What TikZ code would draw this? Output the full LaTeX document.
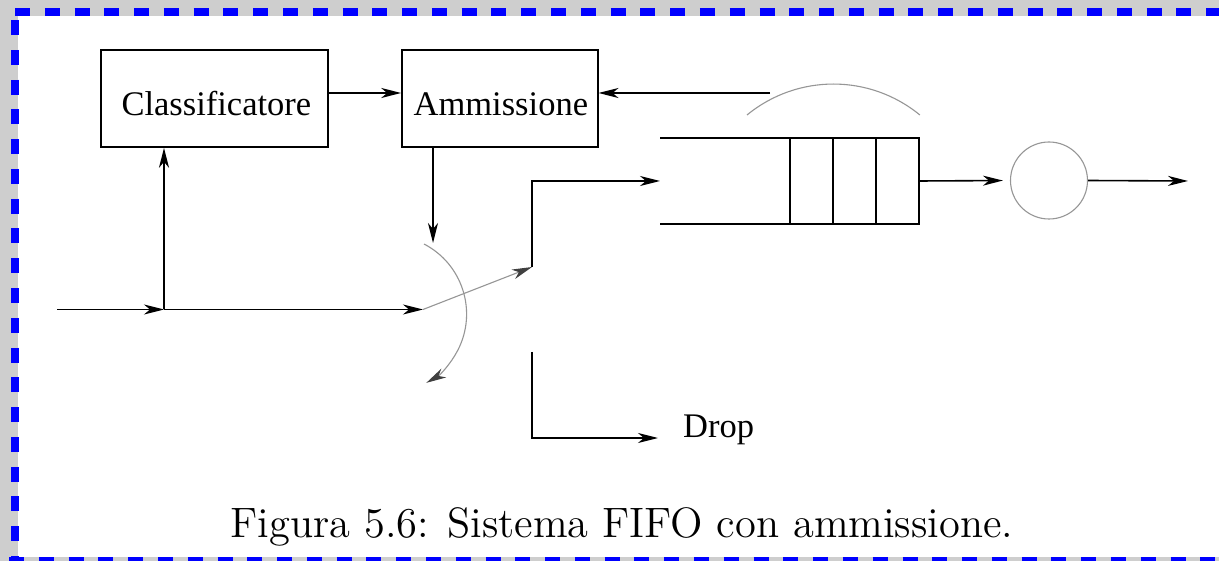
\documentclass[tikz,border=0pt]{standalone}
\usepackage{fontspec}
\setmainfont{Latin Modern Roman}
\newfontfamily\boxfont{Liberation Serif}
\newfontfamily\capfont{lmroman12-regular}[Extension=.otf]
\usetikzlibrary{arrows.meta}
\definecolor{bgray}{RGB}{206,206,206}
\definecolor{lgray}{RGB}{150,150,150}
\definecolor{fblue}{RGB}{0,0,255}
\tikzset{
  blk/.style={line width=1.6pt, black},
  gry/.style={line width=1.1pt, lgray},
  arr/.style={-{Stealth[length=20pt,width=10pt,inset=6pt]}},
  garr/.style={-{Stealth[length=20pt,width=10pt,inset=6pt,color=black!75]}},
  boxnode/.style={draw, line width=1.6pt, inner sep=0pt, text height=66pt, text depth=31pt,
    font=\boxfont\fontsize{34.5}{36}\selectfont, align=center},
  frameline/.style={fblue, line width=7.7pt, dash pattern=on 15pt off 14.78pt},
}
\begin{document}
\begin{tikzpicture}[x=1pt,y=-1pt]
\useasboundingbox (0,0) rectangle (1219,561);
\clip (0,0) rectangle (1219,561);
% background and frame
\fill[bgray] (0,0) rectangle (1219,561);
\fill[white] (18.3,16) rectangle (1230,556.5);
\draw[frameline] (15,12.2) -- (1230,12.2);
\draw[frameline] (14.65,20) -- (14.65,570);
\draw[frameline] (9.1,560.5) -- (1230,560.5);

% boxes
\node[boxnode, minimum width=226.7pt] (cls) at (214.35,98.5) {\hspace*{4pt}Classificatore};
\node[boxnode, minimum width=195.7pt] (amm) at (499.85,98.5) {\hspace*{2pt}Ammissione};

% coordinates
\coordinate (in) at (57,309.5);
\coordinate (split) at (164,309.5);
\coordinate (pivot) at (423,309.5);
\coordinate (swtop) at (433,243);
\coordinate (sout) at (532,267);
\coordinate (corner) at (532,181);
\coordinate (qin) at (660,181);
\coordinate (fb) at (770,93);
\coordinate (dtop) at (532,352);
\coordinate (dcorner) at (532,438);
\coordinate (dend) at (658,438);
\coordinate (qout) at (919,181);
\coordinate (out) at (1188,181);

% server
\node[circle, draw=lgray, line width=1.1pt, minimum size=77pt, inner sep=0pt] (srv) at (1049,180.5) {};

% queue
\draw[blk] (660,138) -- (919,138) -- (919,224) -- (660,224);
\draw[blk] (790,138) -- (790,224);
\draw[blk] (833,138) -- (833,224);
\draw[blk] (876,138) -- (876,224);
\draw[gry] (747,115) arc[start angle=-129.4, end angle=-50.6, radius=136.2];

% connectors
\draw[blk, arr] (in) -- (split);
\draw[blk, arr] (split) -- (pivot);
\draw[blk, arr] (split) -- (split |- cls.south);
\draw[blk, arr] ([yshift=5.5pt]cls.east) -- ([yshift=5.5pt]amm.west);
\draw[blk, arr] (fb) -- (fb -| amm.east);
\draw[blk, arr] (swtop |- amm.south) -- (swtop);
\draw[gry, garr] (pivot) -- (sout);
\draw[gry, garr] (424,244) arc[start angle=-62.6, end angle=60.7, radius=78.9];
\draw[blk, arr] (sout) -- (corner) -- (qin);
\draw[blk, arr] (dtop) -- (dcorner) -- (dend);
\node[anchor=base west, inner sep=0pt, font=\boxfont\fontsize{34.5}{36}\selectfont] (drop) at (683,437.3) {Drop};
\draw[blk, arr, shorten >=7pt] (qout) -- (srv.west);
\draw[blk, arr] (srv.east) -- (out);

% caption
\node[anchor=base, inner sep=0pt, font=\capfont\fontsize{42.5}{48}\selectfont] (cap) at (622,537) {Figura 5.6: Sistema FIFO con ammissione.};
\end{tikzpicture}
\end{document}
